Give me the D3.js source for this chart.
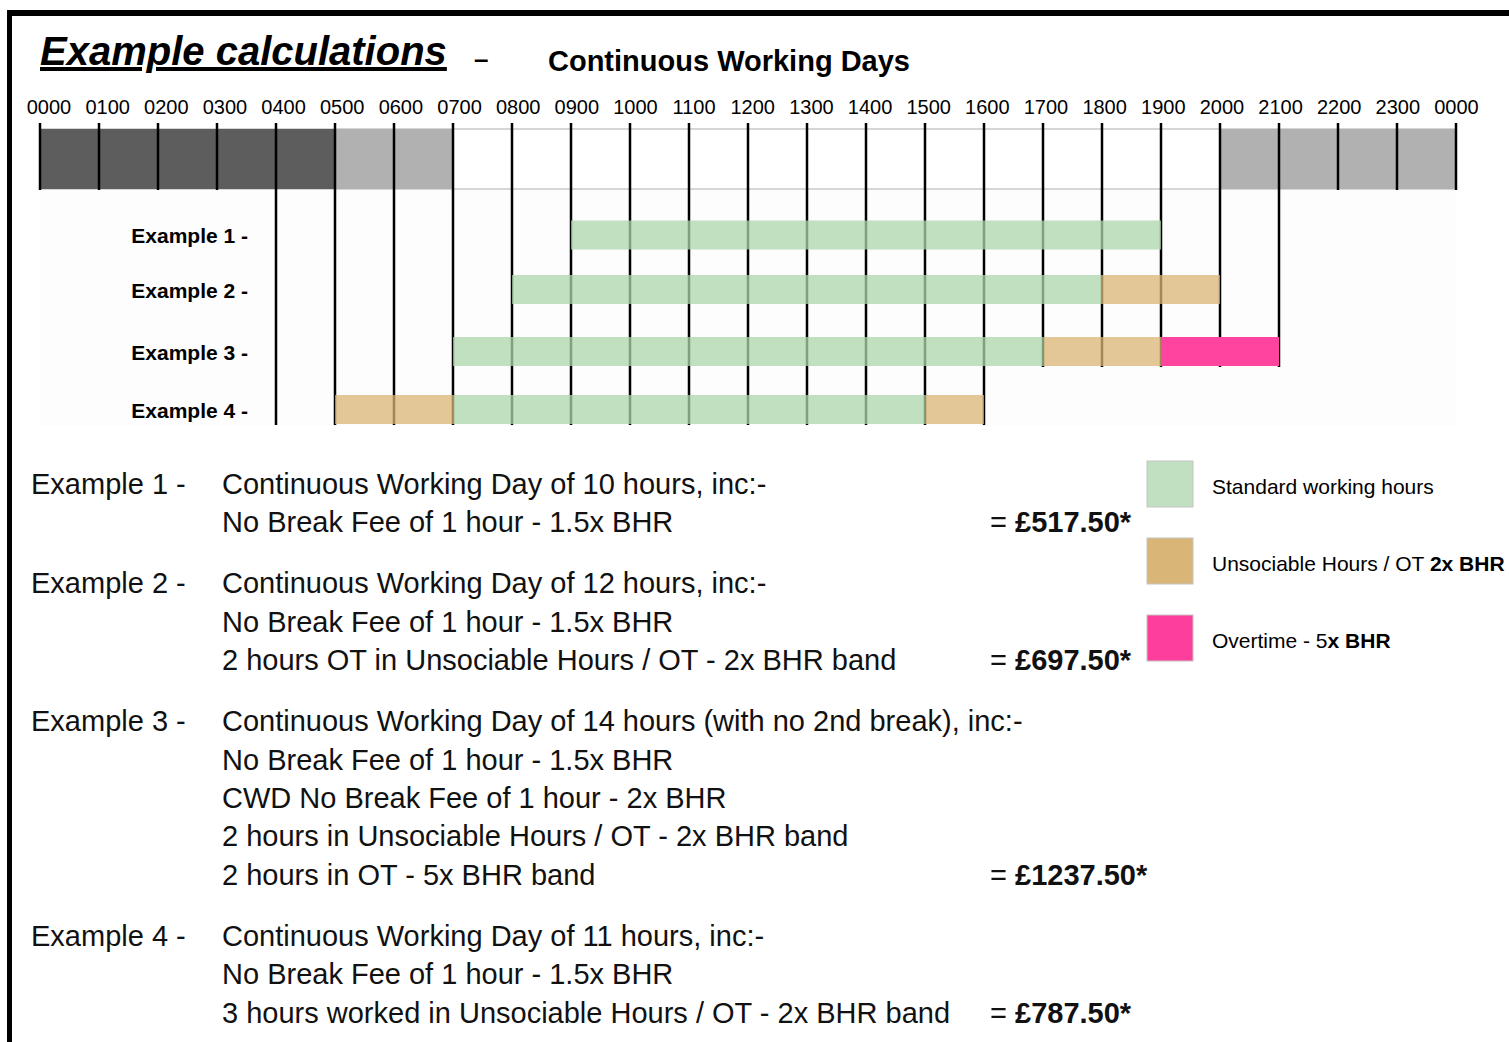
<!DOCTYPE html>
<html lang="en">
<head>
    <meta charset="UTF-8">
    <title>Example calculations</title>
    <script src="https://d3js.org/d3.v7.min.js"></script>
    <style>
        body { margin: 0; background: #fff; }
        svg { display: block; font-family: "Liberation Sans", Arial, Helvetica, sans-serif; }
    </style>
</head>
<body>

<svg width="1509" height="1042"></svg>

<script>
    // hours of the day, 0..24
    const hours = d3.range(0, 25);
    const hourLabels = hours.map(h => d3.format("02d")(h % 24) + "00");

    // shaded parts of the day strip
    const dayBands = [
        {from: 0, to: 5, tone: "night"},
        {from: 5, to: 7, tone: "fringe"},
        {from: 20, to: 24, tone: "fringe"}
    ];

    const exampleNames = ["Example 1", "Example 2", "Example 3", "Example 4"];

    // worked blocks per example (hours)
    const segments = [
        {example: "Example 1", from: 9, to: 19, type: "standard"},
        {example: "Example 2", from: 8, to: 18, type: "standard"},
        {example: "Example 2", from: 18, to: 20, type: "unsociable"},
        {example: "Example 3", from: 7, to: 17, type: "standard"},
        {example: "Example 3", from: 17, to: 19, type: "unsociable"},
        {example: "Example 3", from: 19, to: 21, type: "overtime"},
        {example: "Example 4", from: 5, to: 7, type: "unsociable"},
        {example: "Example 4", from: 7, to: 15, type: "standard"},
        {example: "Example 4", from: 15, to: 16, type: "unsociable"}
    ];

    // how far down the hour lines run
    const gridReach = [
        {from: 4, to: 16, row: "Example 4"},
        {from: 17, to: 21, row: "Example 3"}
    ];

    const exampleLines = [
        ["Continuous Working Day of 10 hours, inc:-",
         "No Break Fee of 1 hour - 1.5x BHR"],
        ["Continuous Working Day of 12 hours, inc:-",
         "No Break Fee of 1 hour - 1.5x BHR",
         "2 hours OT in Unsociable Hours / OT - 2x BHR band"],
        ["Continuous Working Day of 14 hours (with no 2nd break), inc:-",
         "No Break Fee of 1 hour - 1.5x BHR",
         "CWD No Break Fee of 1 hour - 2x BHR",
         "2 hours in Unsociable Hours / OT - 2x BHR band",
         "2 hours in OT - 5x BHR band"],
        ["Continuous Working Day of 11 hours, inc:-",
         "No Break Fee of 1 hour - 1.5x BHR",
         "3 hours worked in Unsociable Hours / OT - 2x BHR band"]
    ];
    const exampleTotals = ["£517.50*", "£697.50*", "£1237.50*", "£787.50*"];

    const legendItems = [
        {type: "standard", plain: "Standard working hours", bold: ""},
        {type: "unsociable", plain: "Unsociable Hours / OT ", bold: "2x BHR"},
        {type: "overtime", plain: "Overtime - 5", bold: "x BHR"}
    ];

    const toneColor = {night: "#5d5d5d", fringe: "#b1b1b1"};
    const barColor = {standard: "#abd6ab", unsociable: "#dab473", overtime: "#ff44a0"};
    const barOpacity = {standard: 0.75, unsociable: 0.75, overtime: 1};
    const swatchColor = {standard: "#c1dfc1", unsociable: "#d9b677", overtime: "#fe3e9c"};

    const svg = d3.select("svg");

    const x = d3.scaleLinear().domain([0, 24]).range([40, 1456]);
    const xLabel = d3.scaleLinear().domain([0, 24]).range([49, 1456.5]);
    const yRow = d3.scaleOrdinal().domain(exampleNames).range([235, 289.5, 351.5, 409.5]);
    const barH = 29;
    const stripTop = 129, stripBottom = 189, tickTop = 123;

    // frame
    svg.append("line").attr("x1", 7).attr("x2", 1509).attr("y1", 13).attr("y2", 13)
        .attr("stroke", "#000").attr("stroke-width", 6);
    svg.append("line").attr("x1", 9.5).attr("x2", 9.5).attr("y1", 10).attr("y2", 1042)
        .attr("stroke", "#000").attr("stroke-width", 5);

    // title
    svg.append("text").attr("x", 40).attr("y", 65)
        .attr("font-size", 40).attr("font-weight", "bold").attr("font-style", "italic")
        .attr("text-decoration", "underline")
        .text("Example calculations");
    svg.append("text").attr("x", 474).attr("y", 68)
        .attr("font-size", 26).attr("font-weight", "bold").text("–");
    svg.append("text").attr("x", 548).attr("y", 71)
        .attr("font-size", 29).attr("font-weight", "bold").text("Continuous Working Days");

    // hour labels
    svg.append("g").selectAll("text")
        .data(hours)
        .join("text")
        .attr("x", d => xLabel(d))
        .attr("y", 114)
        .attr("text-anchor", "middle")
        .attr("font-size", 20)
        .text((d, i) => hourLabels[i]);

    // faint panel behind the examples
    svg.append("rect").attr("x", x(0)).attr("y", stripBottom)
        .attr("width", x(24) - x(0)).attr("height", 237)
        .attr("fill", "#fdfdfd");

    // day strip
    svg.append("g").selectAll("line")
        .data([stripTop, stripBottom])
        .join("line")
        .attr("x1", x(0)).attr("x2", x(24))
        .attr("y1", d => d).attr("y2", d => d)
        .attr("stroke", "#c8c8c8").attr("stroke-width", 1.5);

    svg.append("g").selectAll("rect")
        .data(dayBands)
        .join("rect")
        .attr("x", d => x(d.from))
        .attr("y", stripTop)
        .attr("width", d => x(d.to) - x(d.from))
        .attr("height", stripBottom - stripTop)
        .attr("fill", d => toneColor[d.tone]);

    // hour lines
    function lineBottom(h) {
        const r = gridReach.find(g => h >= g.from && h <= g.to);
        return r ? yRow(r.row) + barH / 2 + 1 : stripBottom + 1;
    }
    svg.append("g").selectAll("line")
        .data(hours)
        .join("line")
        .attr("x1", d => x(d)).attr("x2", d => x(d))
        .attr("y1", tickTop)
        .attr("y2", d => lineBottom(d))
        .attr("stroke", "#000").attr("stroke-width", 2.5);

    // example bars
    svg.append("g").selectAll("rect")
        .data(segments)
        .join("rect")
        .attr("x", d => x(d.from))
        .attr("y", d => yRow(d.example) - barH / 2)
        .attr("width", d => x(d.to) - x(d.from))
        .attr("height", barH)
        .attr("fill", d => barColor[d.type])
        .attr("fill-opacity", d => barOpacity[d.type]);

    svg.append("g").selectAll("text")
        .data(exampleNames)
        .join("text")
        .attr("x", 248)
        .attr("y", d => yRow(d) + 8)
        .attr("text-anchor", "end")
        .attr("font-size", 21)
        .attr("font-weight", "bold")
        .text(d => d + " -");

    // worked text
    const lineStep = 38.4, blockGap = 22.6;
    let cursor = 494;
    const textG = svg.append("g").attr("font-size", 29).attr("fill", "#111");
    exampleLines.forEach((lines, i) => {
        textG.append("text").attr("x", 31).attr("y", cursor).text(exampleNames[i] + " -");
        lines.forEach((l, j) => {
            const yy = cursor + j * lineStep;
            textG.append("text").attr("x", 222).attr("y", yy).text(l);
            if (j === lines.length - 1) {
                const t = textG.append("text").attr("x", 990).attr("y", yy);
                t.append("tspan").text("= ");
                t.append("tspan").attr("font-weight", "bold").text(exampleTotals[i]);
            }
        });
        cursor += lines.length * lineStep + blockGap;
    });

    // legend
    const legendY = d3.scalePoint().domain(legendItems.map(d => d.type)).range([484, 638]);
    const lg = svg.append("g").selectAll("g")
        .data(legendItems)
        .join("g");
    lg.append("rect")
        .attr("x", 1147)
        .attr("y", d => legendY(d.type) - 23)
        .attr("width", 46).attr("height", 46)
        .attr("fill", d => swatchColor[d.type])
        .attr("stroke", "#c4c4c4").attr("stroke-width", 1);
    const lt = lg.append("text")
        .attr("x", 1212)
        .attr("y", d => legendY(d.type) + 10)
        .attr("font-size", 21);
    lt.append("tspan").text(d => d.plain);
    lt.append("tspan").attr("font-weight", "bold").text(d => d.bold);
</script>
</body>
</html>
